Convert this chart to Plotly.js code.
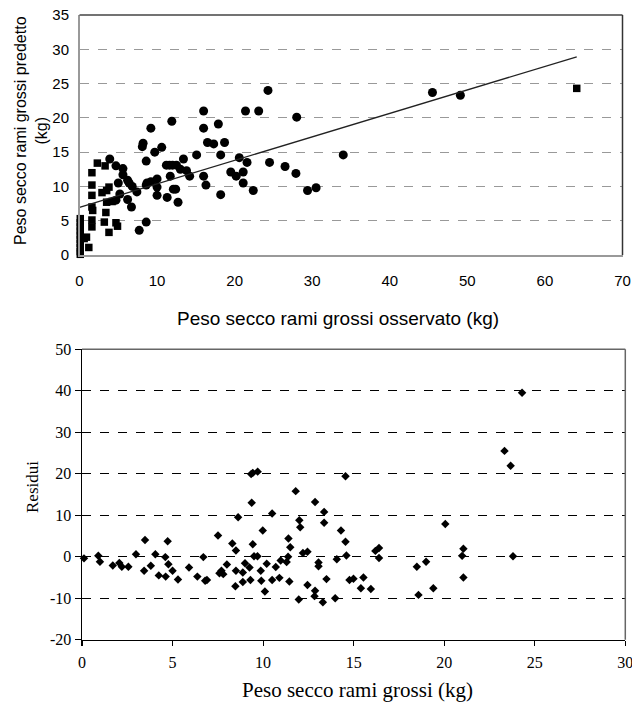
<!DOCTYPE html>
<html><head><meta charset="utf-8">
<script src="https://cdn.plot.ly/plotly-3.0.1.min.js"></script>
<style>html,body{margin:0;padding:0;background:#fff}#chart{width:632px;height:704px}</style>
</head><body><div id="chart"></div>
<script>
// ---- Top chart: observed vs predicted ----
const sqObsX = [0.1,0.1,0.1,0.1,0.1,0.1,0.1,0.1,0.1,0.1,0.6,0.9,1.2,1.6,1.6,1.6,1.7,1.6,1.6,1.6,2.3,3.3,2.9,3.5,3.8,3.5,3.4,3.2,3.8,4.2,4.7,4.9,64.1];
const sqPredY = [5.3,4.7,4.1,3.5,2.9,2.3,1.7,1.1,0.5,0.1,2.4,2.6,1.1,5.1,4.1,7.0,6.5,8.7,10.2,12.0,13.4,13.0,9.1,9.4,9.9,7.7,6.2,4.8,3.3,7.8,4.7,4.2,24.3];
const ciObsX = [24.3,16.0,21.4,23.1,11.9,9.2,16.0,17.9,28.0,8.1,8.2,9.7,10.6,16.5,17.3,18.7,18.2,15.1,13.4,8.6,20.6,21.6,24.5,26.5,27.9,29.4,30.5,34.0,22.4,21.1,21.1,20.2,19.5,18.2,16.0,16.3,13.8,14.2,13.0,11.2,11.6,12.0,12.5,11.7,12.4,12.1,12.7,11.3,10.0,10.0,10.0,9.2,8.7,8.6,7.4,6.8,6.4,6.2,5.6,5.6,4.7,3.9,5.0,5.2,6.2,6.7,4.7,7.7,8.6,45.5,49.1];
const ciPredY = [24.0,21.0,21.0,21.0,19.5,18.5,18.5,19.1,20.1,15.8,16.3,15.0,15.7,16.4,16.2,16.4,14.6,14.6,14.0,13.7,14.2,13.5,13.5,12.9,11.9,9.4,9.8,14.6,9.4,10.5,12.1,11.5,12.1,8.8,11.5,10.2,12.3,11.5,12.5,13.1,13.1,13.1,13.1,11.5,9.6,9.6,7.7,8.4,11.1,9.9,8.7,10.7,10.5,10.2,9.2,10.0,10.5,10.9,11.7,12.6,13.0,14.0,10.5,8.9,8.1,7.0,8.0,3.6,4.8,23.7,23.3];
const fitX = [0, 64.1];
const fitY = [6.95, 28.9];
const topXTicks = [0,10,20,30,40,50,60,70];
const topYTicks = [0,5,10,15,20,25,30,35];

// ---- Bottom chart: residuals ----
const resX = [0.11,0.9,0.99,1.7,2.06,2.2,2.56,2.98,3.48,3.43,3.8,4.05,4.24,4.62,4.6,4.73,4.77,5.0,5.3,5.91,6.37,6.7,6.8,6.9,7.51,7.59,7.7,7.8,8.0,8.3,8.5,8.5,8.47,8.62,8.88,8.88,9.0,9.25,9.3,9.37,9.43,9.34,9.43,9.7,9.5,9.69,9.87,9.9,9.98,10.1,10.2,10.5,10.5,10.7,10.9,10.97,11.3,11.4,11.5,11.38,11.45,11.97,12.0,12.05,11.8,12.2,12.45,12.45,12.87,12.84,12.87,13.06,13.06,13.37,13.37,13.5,13.3,13.98,14.07,14.3,14.55,14.6,14.55,14.77,14.99,15.54,15.4,15.95,16.2,16.4,16.4,20.06,18.49,19.0,18.58,19.4,21.06,20.99,21.06,23.33,23.67,23.8,24.3];
const resY = [-0.4,0.25,-1.2,-2.1,-1.5,-2.4,-2.4,0.6,4.0,-3.4,-2.2,0.6,-4.5,-4.8,-0.1,3.7,-1.8,-3.4,-5.5,-2.6,-4.8,-0.1,-5.8,-5.6,5.1,-4.0,-3.4,-4.2,-1.9,3.2,1.5,-3.4,-7.1,9.5,-3.8,-6.1,-1.6,-2.6,-5.6,13.0,3.0,19.9,20.2,20.5,0.1,0.1,-3.4,-5.8,6.3,-8.4,-1.7,-5.6,10.4,-2.5,-5.1,-0.9,-1.3,4.4,2.3,0.0,-6.0,-10.3,8.8,7.1,15.8,0.9,1.2,-6.8,-8.2,-9.5,13.2,-1.4,-2.3,10.8,8.2,-5.4,-11.0,-10.0,-0.6,6.3,3.6,0.3,19.4,-5.6,-5.3,-5.0,-7.6,-7.8,1.4,2.1,-0.3,7.9,-2.4,-1.2,-9.2,-7.6,1.9,0.2,-5.0,25.5,21.9,0.1,39.5];
const botXTicks = [0,5,10,15,20,25,30];
const botYTicks = [-20,-10,0,10,20,30,40,50];

const W = 632, H = 704;
const SANS = 'Liberation Sans, Arial, sans-serif';
const SERIF = 'Liberation Serif, Times New Roman, serif';

const traces = [
  {x: sqObsX, y: sqPredY, xaxis:'x', yaxis:'y', type:'scatter', mode:'markers',
   marker:{symbol:'square', size:7.5, color:'#000'}, hoverinfo:'skip', cliponaxis:false},
  {x: ciObsX, y: ciPredY, xaxis:'x', yaxis:'y', type:'scatter', mode:'markers',
   marker:{symbol:'circle', size:9, color:'#000'}, hoverinfo:'skip', cliponaxis:false},
  {x: fitX, y: fitY, xaxis:'x', yaxis:'y', type:'scatter', mode:'lines',
   line:{color:'#222', width:1.3}, hoverinfo:'skip'},
  {x: resX, y: resY, xaxis:'x2', yaxis:'y2', type:'scatter', mode:'markers',
   marker:{symbol:'diamond', size:6.5, color:'#000'}, hoverinfo:'skip', cliponaxis:false}
];

const layout = {
  width: W, height: H, showlegend:false,
  margin:{l:0,r:0,t:0,b:0},
  paper_bgcolor:'#fff', plot_bgcolor:'#fff',
  xaxis:{domain:[79.5/W, 622.5/W], range:[0,70.0001], tickvals: topXTicks, ticktext: topXTicks.map(String),
    showgrid:false, zeroline:false, showline:true, linecolor:'#999', linewidth:1.5,
    ticks:'outside', ticklen:11, tickcolor:'rgba(0,0,0,0)', ticklabeloverflow:'allow',
    tickfont:{family:SANS, size:15, color:'#000'}, anchor:'y'},
  yaxis:{domain:[1-255/H, 1-15/H], range:[0,35.0001], tickvals: topYTicks, ticktext: topYTicks.map(String),
    showgrid:true, gridcolor:'#999', griddash:'dash', gridwidth:1, zeroline:false,
    showline:true, linecolor:'#999', linewidth:1.5,
    ticks:'outside', ticklen:6, tickcolor:'rgba(0,0,0,0)',
    tickfont:{family:SANS, size:15, color:'#000'}, anchor:'x'},
  xaxis2:{domain:[82/W, 625.3/W], range:[0,30.0001], tickvals: botXTicks, ticktext: botXTicks.map(String),
    showgrid:false, zeroline:false, showline:true, linecolor:'#000', linewidth:1.5,
    ticks:'outside', ticklen:5, tickcolor:'#000', tickwidth:1.2,
    ticklabelstandoff:3, ticklabeloverflow:'allow',
    tickfont:{family:SERIF, size:16, color:'#000'}, anchor:'y2'},
  yaxis2:{domain:[1-639.7/H, 1-349.2/H], range:[-20,50.0001], tickvals: botYTicks, ticktext: botYTicks.map(String),
    showgrid:true, gridcolor:'#000', griddash:'dash', gridwidth:1, zeroline:false,
    showline:true, linecolor:'#000', linewidth:1.5,
    ticks:'outside', ticklen:6, tickcolor:'#000', tickwidth:1.2,
    tickfont:{family:SERIF, size:16, color:'#000'}, anchor:'x2'},
  shapes:[
    {type:'line', xref:'x domain', yref:'y domain', x0:0, x1:1, y0:1, y1:1, line:{color:'#444', width:1.5}},
    {type:'line', xref:'x domain', yref:'y domain', x0:1, x1:1, y0:0, y1:1, line:{color:'#333', width:1.5}},
    {type:'line', xref:'x2 domain', yref:'y2 domain', x0:0, x1:1, y0:1, y1:1, line:{color:'#666', width:1.5}},
    {type:'line', xref:'x2 domain', yref:'y2 domain', x0:1, x1:1, y0:0, y1:1, line:{color:'#666', width:1.5}}
  ],
  annotations:[
    {text:'Peso secco rami grossi osservato (kg)', xref:'paper', yref:'paper', x:337.5/W, y:1-318/H,
     xanchor:'center', yanchor:'middle', showarrow:false, font:{family:SANS, size:19, color:'#000'}},
    {text:'Peso secco rami grossi predetto<br>(kg)', xref:'paper', yref:'paper', x:31/W, y:1-131/H,
     xanchor:'center', yanchor:'middle', textangle:-90, showarrow:false, font:{family:SANS, size:16, color:'#000'}},
    {text:'Residui', xref:'paper', yref:'paper', x:32/W, y:1-487/H,
     xanchor:'center', yanchor:'middle', textangle:-90, showarrow:false, font:{family:SERIF, size:17, color:'#000'}},
    {text:'Peso secco rami grossi (kg)', xref:'paper', yref:'paper', x:357/W, y:1-690/H,
     xanchor:'center', yanchor:'middle', showarrow:false, font:{family:SERIF, size:21, color:'#000'}}
  ]
};

Plotly.newPlot('chart', traces, layout, {staticPlot:true, displayModeBar:false});
</script>
</body></html>
